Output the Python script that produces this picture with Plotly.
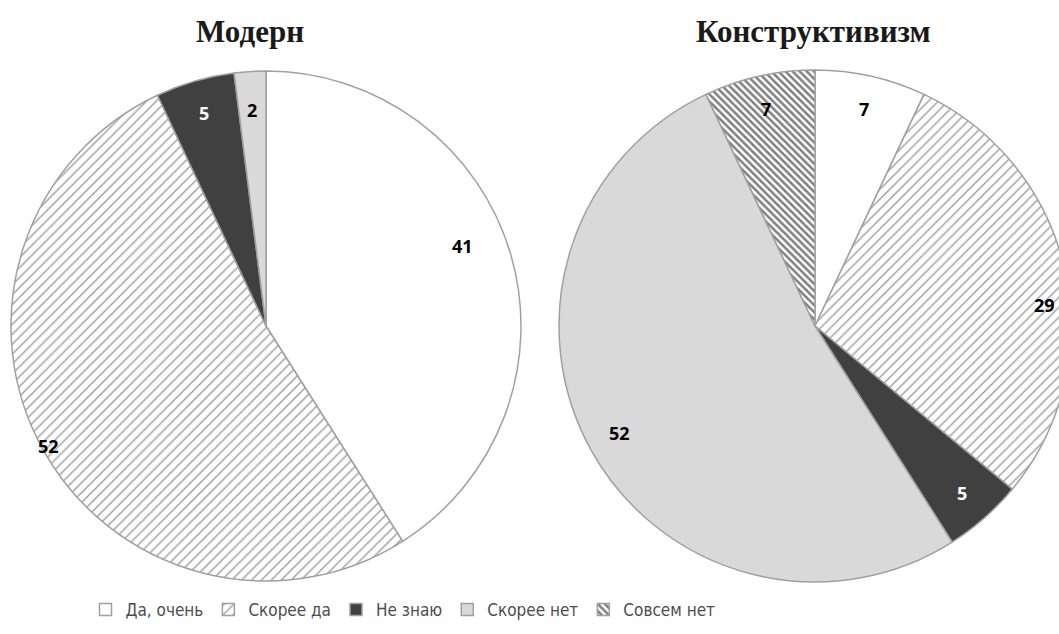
import math
import plotly.graph_objects as go

# Survey answers (percent) for two architectural styles
categories = ["Да, очень", "Скорее да", "Не знаю", "Скорее нет", "Совсем нет"]
modern_values = [41, 52, 5, 2]
constructivism_values = [7, 29, 5, 52, 7]
titles = ["Модерн", "Конструктивизм"]

# Figure geometry (pixels)
W, H = 1080, 634
LEFT = dict(x0=11, x1=521, y0=71, y1=581)
RIGHT = dict(x0=559, x1=1071, y0=70, y1=582)

colors = {
    "Да, очень": "#ffffff",
    "Скорее да": "#ffffff",
    "Не знаю": "#404040",
    "Скорее нет": "#d9d9d9",
    "Совсем нет": "#ffffff",
}
patterns = {
    "Да, очень": "",
    "Скорее да": "/",
    "Не знаю": "",
    "Скорее нет": "",
    "Совсем нет": "\\",
}
pattern_size = {"Скорее да": 7, "Совсем нет": 5}
pattern_solidity = {"Скорее да": 0.2, "Совсем нет": 0.5}
pattern_fg = {"Скорее да": "#3a3a3a", "Совсем нет": "#000000"}

# Label placement inside slices: radial fraction and position along the arc
label_radius = {
    0: [0.83, 0.975, 0.87, 0.85],
    1: [0.87, 0.9, 0.87, 0.87, 0.87],
}
label_along = {
    0: [0.46, 0.5, 0.5, 0.5],
    1: [0.5, 0.57, 0.5, 0.5, 0.5],
}


def domain(box):
    return dict(
        x=[box["x0"] / W, box["x1"] / W],
        y=[1 - box["y1"] / H, 1 - box["y0"] / H],
    )


def make_pie(values, box, name):
    labs = categories[: len(values)]
    return go.Pie(
        labels=labs,
        values=values,
        name=name,
        sort=False,
        direction="clockwise",
        rotation=0,
        textinfo="none",
        hoverinfo="label+value",
        domain=domain(box),
        marker=dict(
            colors=[colors[c] for c in labs],
            line=dict(color="#a0a0a0", width=1.5),
            pattern=dict(
                shape=[patterns[c] for c in labs],
                size=[pattern_size.get(c, 8) for c in labs],
                solidity=[pattern_solidity.get(c, 0.3) for c in labs],
                fgcolor=[pattern_fg.get(c, "#000000") for c in labs],
                fillmode="overlay",
            ),
        ),
    )


fig = go.Figure()
fig.add_trace(make_pie(modern_values, LEFT, titles[0]))
fig.add_trace(make_pie(constructivism_values, RIGHT, titles[1]))

# Value labels computed from the slice angles
annotations = []
for idx, (values, box) in enumerate([(modern_values, LEFT), (constructivism_values, RIGHT)]):
    cx = (box["x0"] + box["x1"]) / 2
    cy = (box["y0"] + box["y1"]) / 2
    r = min(box["x1"] - box["x0"], box["y1"] - box["y0"]) / 2
    total = sum(values)
    cum = 0
    for i, v in enumerate(values):
        frac = (cum + v * label_along[idx][i]) / total
        theta = 2 * math.pi * frac
        rr = r * label_radius[idx][i]
        px = cx + rr * math.sin(theta)
        py = cy - rr * math.cos(theta)
        cum += v
        annotations.append(
            dict(
                x=px / W,
                y=1 - py / H,
                xref="paper",
                yref="paper",
                text=str(v),
                showarrow=False,
                font=dict(
                    family="Open Sans, DejaVu Sans, sans-serif",
                    size=18,
                    color="#ffffff" if categories[i] == "Не знаю" else "#000000",
                    weight="bold",
                ),
                xanchor="center",
                yanchor="middle",
            )
        )

# Chart titles above each pie
for t, box in zip(titles, [LEFT, RIGHT]):
    cx = (box["x0"] + box["x1"]) / 2
    annotations.append(
        dict(
            x=(cx - 16 if t == "Модерн" else cx - 2) / W,
            y=1 - 31 / H,
            xref="paper",
            yref="paper",
            text=t,
            showarrow=False,
            font=dict(family="Liberation Serif, Times New Roman, serif", size=31,
                      color="#1a1a1a", weight="bold"),
            xanchor="center",
            yanchor="middle",
        )
    )

fig.update_layout(
    width=W,
    height=H,
    margin=dict(l=0, r=0, t=0, b=0),
    paper_bgcolor="#ffffff",
    plot_bgcolor="#ffffff",
    annotations=annotations,
    showlegend=True,
    legend=dict(
        orientation="h",
        x=403 / W,
        xanchor="center",
        y=1 - 610 / H,
        yanchor="middle",
        font=dict(family="Liberation Sans Narrow, DejaVu Sans Condensed, Roboto, sans-serif",
                  size=17, color="#4d4d4d"),
        itemwidth=30,
        tracegroupgap=0,
        traceorder="normal",
    ),
)

fig.write_html(
    "out.html",
    config={"displayModeBar": False},
    post_script="document.documentElement.style.overflow='hidden';document.body.style.overflow='hidden';",
)
